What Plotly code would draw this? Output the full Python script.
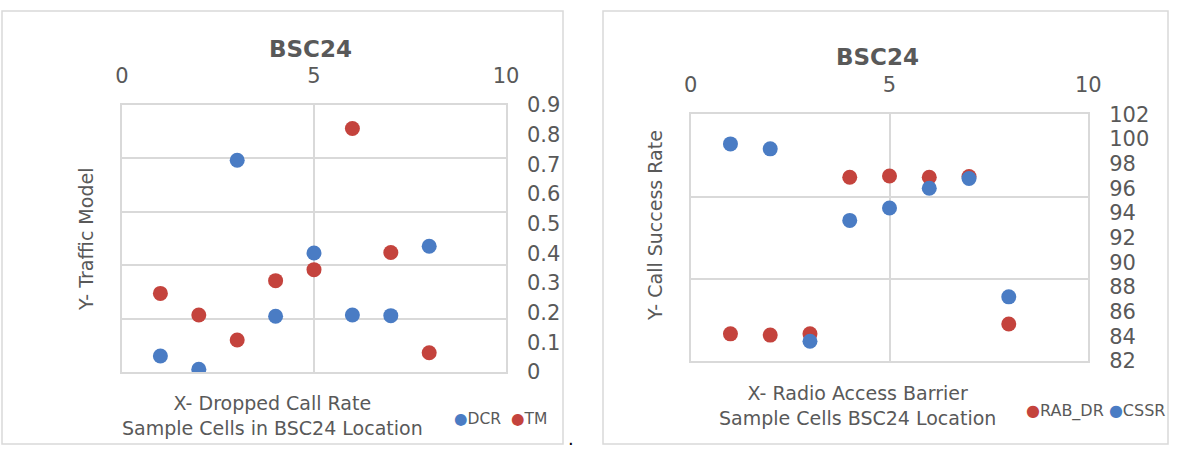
import plotly.graph_objects as go

# ---- data ----
cells = [1, 2, 3, 4, 5, 6, 7, 8]
dcr = [0.054, 0.009, 0.714, 0.188, 0.401, 0.192, 0.190, 0.424]
tm = [0.265, 0.192, 0.108, 0.308, 0.345, 0.821, 0.403, 0.065]
rab_dr = [84.2, 84.1, 84.2, 96.9, 97.0, 96.9, 96.95, 85.0]
cssr = [99.6, 99.2, 83.6, 93.4, 94.4, 96.0, 96.8, 87.2]

W, H = 1182, 450
BLUE = "#4a7cc4"
RED = "#c4433d"
GREY = "#595959"
GRID = "#d9d9d9"
FONT = "DejaVu Sans"


def px(x):
    return x / W


def py(y):
    return 1 - y / H


fig = go.Figure()
fig.add_trace(go.Scatter(x=cells, y=dcr, mode="markers", name="DCR",
                         marker=dict(color=BLUE, size=15), xaxis="x", yaxis="y"))
fig.add_trace(go.Scatter(x=cells, y=tm, mode="markers", name="TM",
                         marker=dict(color=RED, size=15), xaxis="x", yaxis="y"))
fig.add_trace(go.Scatter(x=cells, y=rab_dr, mode="markers", name="RAB_DR",
                         marker=dict(color=RED, size=15), xaxis="x2", yaxis="y2"))
fig.add_trace(go.Scatter(x=cells, y=cssr, mode="markers", name="CSSR",
                         marker=dict(color=BLUE, size=15), xaxis="x2", yaxis="y2"))

tickfont = dict(family=FONT, size=21, color=GREY)
xcommon = dict(range=[0, 10], dtick=5, side="top", showgrid=True, gridcolor=GRID, gridwidth=1.5,
               showline=True, mirror=True, linecolor=GRID, linewidth=1.5, zeroline=False,
               ticks="", tickfont=tickfont, ticklabelstandoff=12, fixedrange=True,
               automargin=False)
ycommon = dict(side="right", showgrid=False, showline=True, mirror=True, linecolor=GRID,
               linewidth=1.5, zeroline=False, ticks="", tickfont=tickfont,
               ticklabelstandoff=15, fixedrange=True, automargin=False)

fig.update_layout(
    width=W, height=H,
    margin=dict(l=0, r=0, t=0, b=0, pad=0, autoexpand=False),
    paper_bgcolor="white", plot_bgcolor="white",
    font=dict(family=FONT, color=GREY),
    showlegend=False,
    xaxis=dict(domain=[px(122), px(506)], anchor="y", **xcommon),
    yaxis=dict(domain=[py(372), py(105)], anchor="x", range=[0, 0.9], dtick=0.1,
               minor=dict(tick0=0, dtick=0.18, showgrid=True, gridcolor=GRID, gridwidth=1.5, ticks=""),
               **ycommon),
    xaxis2=dict(domain=[px(690.7), px(1088.3)], anchor="y2", **xcommon),
    yaxis2=dict(domain=[py(361), py(114.3)], anchor="x2", range=[82, 102], dtick=2,
                minor=dict(tick0=82, dtick=20 / 3, showgrid=True, gridcolor=GRID, gridwidth=1.5, ticks=""),
                **ycommon),
)

# chart frames
for x0, x1 in [(2, 563), (603, 1168)]:
    fig.add_shape(type="rect", xref="paper", yref="paper",
                  x0=px(x0), x1=px(x1), y0=py(444), y1=py(11),
                  line=dict(color=GRID, width=1.5), fillcolor="rgba(0,0,0,0)", layer="below")


def dot(color):
    return '<span style="color:%s">\u25cf</span>' % color


ann = []
# titles
ann.append(dict(text="<b>BSC24</b>", x=px(311), y=py(49), font=dict(size=23, color=GREY)))
ann.append(dict(text="<b>BSC24</b>", x=px(877), y=py(57), font=dict(size=23, color=GREY)))
# y titles
ann.append(dict(text="Y- Traffic Model", x=px(86), y=py(240), textangle=-90,
                font=dict(size=19, color=GREY)))
ann.append(dict(text="Y- Call Success Rate", x=px(655), y=py(226), textangle=-90,
                font=dict(size=19, color=GREY)))
# x titles
ann.append(dict(text="X- Dropped Call Rate<br>Sample Cells in BSC24 Location", x=px(272), y=py(415),
                font=dict(size=19, color=GREY)))
ann.append(dict(text="X- Radio Access Barrier<br>Sample Cells BSC24 Location", x=px(857), y=py(405),
                font=dict(size=19, color=GREY)))
# legends
ann.append(dict(text=dot(BLUE) + "DCR \u00a0" + dot(RED) + "TM", x=px(452), y=py(419), xanchor="left",
                font=dict(size=15.5, color=GREY)))
ann.append(dict(text=dot(RED) + "RAB_DR " + dot(BLUE) + "CSSR", x=px(1024), y=py(411), xanchor="left",
                font=dict(size=16, color=GREY)))
# stray period
ann.append(dict(text=".", x=px(571), y=py(438), font=dict(size=18, color="#000000")))

for a in ann:
    a.setdefault("xanchor", "center")
    a.update(xref="paper", yref="paper", showarrow=False, yanchor="middle")
    a["font"]["family"] = FONT
    fig.add_annotation(**a)

fig.write_html("out.html",
               post_script="document.body.style.margin='0';document.body.style.padding='0';")
